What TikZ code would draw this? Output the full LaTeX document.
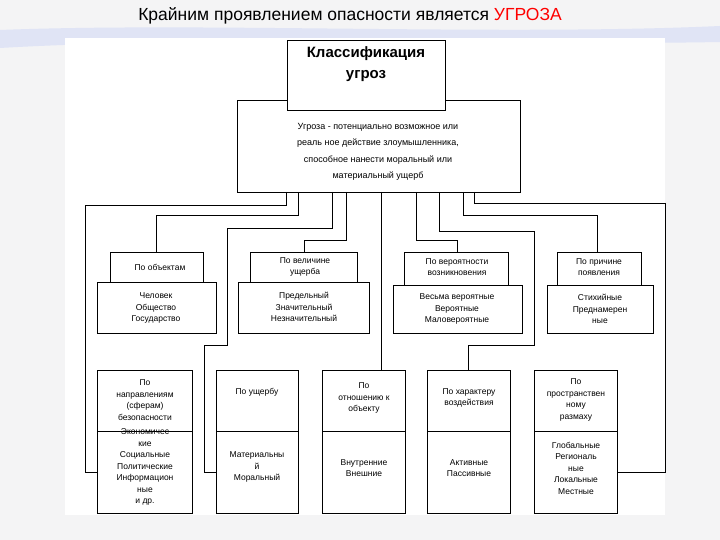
\documentclass[tikz,border=0pt]{standalone}
\usepackage{fontspec}
\setmainfont{Liberation Sans}
\begin{document}
\begin{tikzpicture}[x=1pt,y=-1pt,
 bx/.style={draw=black,line width=0.9pt,fill=white},
 tx/.style={font=\fontsize{8.5}{11.5}\selectfont,align=center,inner sep=0pt},
 ln/.style={draw=black,line width=0.9pt}]
\useasboundingbox (0,0) rectangle (720,540);
\fill[blue!4!gray!8] (0,0) rectangle (720,540);
\fill[cyan!40!blue!12] (0,30) .. controls (200,22) and (500,36) .. (720,26) -- (720,42) .. controls (500,46) and (200,36) .. (0,48) -- cycle;
\fill[white] (65,38) rectangle (665,515);
\node[font=\fontsize{17.5}{20}\selectfont] (title) at (350,16) {Крайним проявлением опасности является \textcolor{red}{УГРОЗА}};
% definition and top boxes
\draw[bx] (237,100) rectangle (520,192);
\node[tx,font=\fontsize{9}{16.5}\selectfont] (def) at (378,152) {Угроза - потенциально возможное или\\реаль ное действие злоумышленника,\\способное нанести моральный или\\материальный ущерб};
\draw[bx] (287,40) rectangle (445,110);
\node[font=\bfseries\fontsize{15}{21}\selectfont,align=center] (cls) at (366,64) {Классификация\\угроз};
% connectors
\draw[ln] (286,192) |- (85,205) |- (97,472);
\draw[ln] (298,192) |- (156,215) -- (156,252);
\draw[ln] (332,192) |- (227,228) |- (204,345) |- (216,472);
\draw[ln] (346,192) |- (304,240) -- (304,252);
\draw[ln] (381,192) -- (381,370);
\draw[ln] (416,192) |- (457,240) -- (457,252);
\draw[ln] (439,192) |- (534,231) |- (468,345) -- (468,370);
\draw[ln] (463,192) |- (597,215) -- (597,252);
\draw[ln] (474,192) |- (665,203) |- (617,472);
% upper groups
\draw[bx] (97,282) rectangle (216,333);
\draw[bx] (110,252) rectangle (203,282);
\node[tx] (a1) at (160,267) {По объектам};
\node[tx] (a2) at (156,308) {Человек\\Общество\\Государство};
\draw[bx] (238,282) rectangle (369,333);
\draw[bx] (250,252) rectangle (357,282);
\node[tx] (b1) at (305,267) {По величине\\ущерба};
\node[tx] (b2) at (304,307) {Предельный\\Значительный\\Незначительный};
\draw[bx] (393,285) rectangle (522,333);
\draw[bx] (404,252) rectangle (508,285);
\node[tx] (c1) at (457,267) {По вероятности\\возникновения};
\node[tx] (c2) at (457,309) {Весьма вероятные\\Вероятные\\Маловероятные};
\draw[bx] (547,285) rectangle (653,333);
\draw[bx] (557,252) rectangle (641,285);
\node[tx] (d1) at (599,267) {По причине\\появления};
\node[tx] (d2) at (600,309) {Стихийные\\Преднамерен\\ные};
% lower boxes
\foreach \l/\r in {97/192,216/298,322/405,427/510,534/617}{
 \draw[bx] (\l,370) rectangle (\r,513);
 \draw[ln] (\l,431) -- (\r,431);}
\node[tx] (e1) at (145,400) {По\\направлениям\\(сферам)\\безопасности};
\node[tx] (e2) at (145,467) {Экономичес\\кие\\Социальные\\Политические\\Информацион\\ные\\и др.};
\node[tx] (f1) at (257,392) {По ущербу};
\node[tx] (f2) at (257,467) {Материальны\\й\\Моральный};
\node[tx] (g1) at (364,398) {По\\отношению к\\объекту};
\node[tx] (g2) at (364,468) {Внутренние\\Внешние};
\node[tx] (h1) at (469,398) {По характеру\\воздействия};
\node[tx] (h2) at (469,468) {Активные\\Пассивные};
\node[tx] (i1) at (576,400) {По\\пространствен\\ному\\размаху};
\node[tx] (i2) at (576,468) {Глобальные\\Региональ\\ные\\Локальные\\Местные};
\end{tikzpicture}
\end{document}
